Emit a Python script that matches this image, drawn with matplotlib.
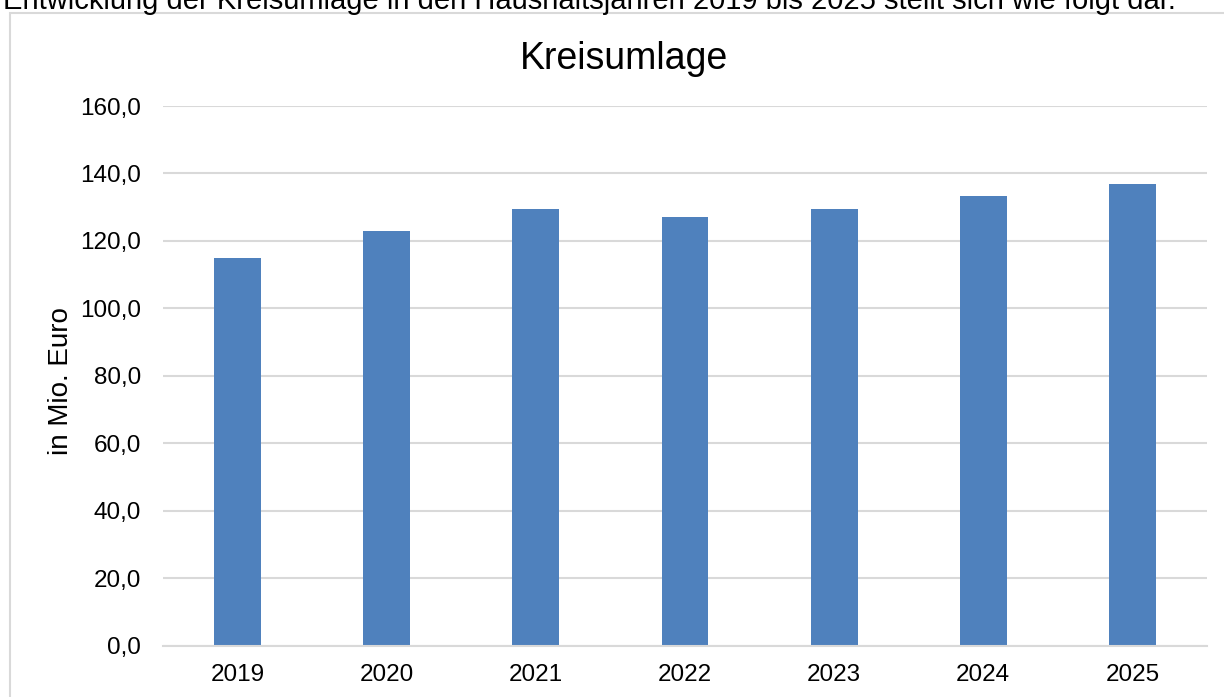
import matplotlib.pyplot as plt
from matplotlib.patches import Rectangle
from matplotlib.ticker import FuncFormatter, MultipleLocator

# Kreisumlage in Mio. Euro
jahre = ['2019', '2020', '2021', '2022', '2023', '2024', '2025']
kreisumlage = [115.0, 122.9, 129.6, 127.1, 129.4, 133.3, 136.9]

plt.rcParams['font.family'] = ['Liberation Sans', 'DejaVu Sans']

W, H = 1224, 697
fig = plt.figure(figsize=(W / 100, H / 100), dpi=100)

# chart frame (Excel style), partly cut off at right and bottom
fig.patches.append(Rectangle((10 / W, -0.1), 1.2, 1 - 13 / H + 0.1,
                             transform=fig.transFigure, fill=False,
                             edgecolor='#d9d9d9', lw=1.5))

# the sentence above the chart, cut off by the top edge
fig.text(3 / W, 1 - 9 / H,
         'Entwicklung der Kreisumlage in den Haushaltsjahren 2019 bis 2025 '
         'stellt sich wie folgt dar.',
         ha='left', va='baseline', fontsize=21)

ax = fig.add_axes([163 / W, 1 - 645.7 / H, (1207 - 163) / W, (645.7 - 106) / H])
x = range(len(jahre))
ax.bar(x, kreisumlage, width=0.315, color='#4f81bd', zorder=3)

ax.set_xlim(-0.5, len(jahre) - 0.5)
ax.set_ylim(0, 160)
ax.yaxis.set_major_locator(MultipleLocator(20))
ax.yaxis.set_major_formatter(FuncFormatter(lambda v, p: f'{v:.1f}'.replace('.', ',')))
ax.set_xticks(list(x))
ax.set_xticklabels(jahre)
ax.grid(axis='y', color='#d9d9d9', lw=1.5, zorder=0)

for side in ['top', 'right', 'left']:
    ax.spines[side].set_visible(False)
ax.spines['bottom'].set_color('#d9d9d9')
ax.spines['bottom'].set_linewidth(1.5)
ax.spines['bottom'].set_zorder(4)

ax.tick_params(axis='both', length=0, labelsize=17.5, colors='black')
ax.tick_params(axis='y', pad=16)
ax.tick_params(axis='x', pad=13)

# title is centred on the chart frame, not on the plot area
fig.text(624 / W, 1 - 69 / H, 'Kreisumlage', ha='center', va='baseline', fontsize=27)

ax.set_ylabel('in Mio. Euro', fontsize=20)
ax.yaxis.set_label_coords((74 - 163) / 1044, 0.49)

fig.savefig('out.png', dpi=100)
